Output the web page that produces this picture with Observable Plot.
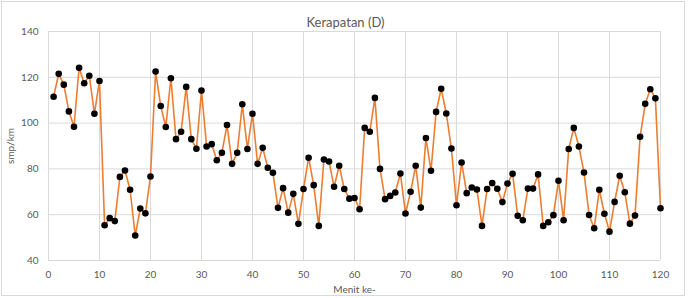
<!DOCTYPE html>
<html>
<head>
<meta charset="utf-8">
<script src="https://cdn.jsdelivr.net/npm/d3@7"></script>
<script src="https://cdn.jsdelivr.net/npm/@observablehq/plot@0.6"></script>
<style>
  html, body { margin: 0; padding: 0; background: #fff; }
  #wrap { position: relative; width: 691px; height: 298px; font-family: Lato, "Open Sans", sans-serif; }
  #border { position: absolute; left: 1px; top: 1px; width: 682px; height: 293px; border: 1px solid #d9d9d9; pointer-events: none; }
  #title { position: absolute; left: 0; width: 691px; top: 14px; text-align: center; font-size: 13px; color: #595959; }
</style>
</head>
<body>
<div id="wrap">
  <div id="chart"></div>
  <div id="title">Kerapatan (D)</div>
  <div id="border"></div>
</div>
<script>
const title = "Kerapatan (D)";
const xLabel = "Menit ke-";
const yLabel = "smp/km";
const xTicks = [0, 10, 20, 30, 40, 50, 60, 70, 80, 90, 100, 110, 120];
const yTicks = [40, 60, 80, 100, 120, 140];
const minutes = d3.range(1, 121);
const density = [
  111.5, 121.5, 116.8, 105.1, 98.4, 124.2, 117.4, 120.7, 104.1, 118.4,
  55.4, 58.5, 57.2, 76.5, 79.3, 70.9, 50.9, 62.7, 60.6, 76.7,
  122.5, 107.5, 98.3, 119.6, 93.0, 96.2, 115.8, 93.0, 88.8, 114.2,
  89.8, 90.8, 83.8, 87.0, 99.2, 82.2, 87.0, 108.2, 88.7, 104.1,
  82.2, 89.2, 80.5, 78.3, 63.0, 71.6, 60.9, 69.1, 56.0, 71.2,
  84.9, 72.9, 55.1, 84.1, 83.2, 72.2, 81.4, 71.2, 67.0, 67.3,
  62.4, 97.9, 96.2, 111.0, 80.0, 66.8, 68.2, 69.7, 78.0, 60.5,
  70.0, 81.4, 63.1, 93.5, 79.2, 104.9, 115.0, 104.2, 88.9, 64.1,
  82.8, 69.4, 71.9, 71.0, 55.1, 71.2, 73.8, 71.3, 65.5, 73.6,
  77.9, 59.5, 57.6, 71.4, 71.4, 77.6, 55.1, 56.7, 59.8, 74.8,
  57.6, 88.7, 97.9, 89.8, 78.4, 59.9, 54.1, 70.9, 60.4, 52.6,
  65.6, 77.0, 69.8, 56.1, 59.6, 94.0, 108.4, 114.8, 110.8, 62.8
];
const data = minutes.map((m, i) => ({minute: m, value: density[i]}));

const chart = Plot.plot({
  width: 691,
  height: 298,
  marginLeft: 48,
  marginRight: 31,
  marginTop: 31,
  marginBottom: 38,
  style: {fontFamily: "Lato, 'Open Sans', sans-serif", fontSize: "10px", color: "#595959", background: "transparent"},
  x: {domain: [0, 120]},
  y: {domain: [40, 140]},
  marks: [
    Plot.gridY(yTicks, {stroke: "#d9d9d9", strokeOpacity: 1}),
    Plot.gridX(xTicks, {stroke: "#d9d9d9", strokeOpacity: 1}),
    Plot.axisY(yTicks, {tickSize: 0, tickPadding: 10, label: yLabel, labelAnchor: "center", labelArrow: "none", labelOffset: 42, fill: "#595959"}),
    Plot.axisX(xTicks, {tickSize: 0, tickPadding: 10, label: xLabel, labelAnchor: "center", labelArrow: "none", labelOffset: 32, fill: "#595959"}),
    Plot.line(data, {x: "minute", y: "value", stroke: "#ED7D31", strokeWidth: 1.6}),
    Plot.dot(data, {x: "minute", y: "value", r: 3.3, fill: "#000", stroke: "none"})
  ]
});
document.getElementById("chart").appendChild(chart);
</script>
</body>
</html>
